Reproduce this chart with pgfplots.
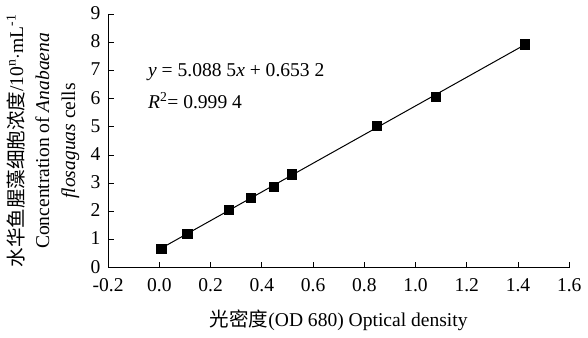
\documentclass[border=0pt]{standalone}
\usepackage{pgfplots}
\pgfplotsset{compat=1.18}
\usepackage{fontspec}
\setmainfont{Liberation Serif}
\newfontfamily\cjk{Noto Sans CJK SC}
\begin{document}
\fontsize{19.5}{24}\selectfont
\begin{tikzpicture}
\begin{axis}[
  scale only axis,
  width=460pt, height=253pt,
  xmin=-0.2, xmax=1.6, ymin=0, ymax=9,
  xtick={-0.2,0,0.2,0.4,0.6,0.8,1.0,1.2,1.4,1.6},
  ytick={0,1,...,9},
  axis lines*=left,
  axis line style={line width=0.9pt},
  tick align=inside,
  major tick length=5.5pt,
  tick style={line width=0.8pt, black},
  /pgf/number format/assume math mode=true,
  xticklabel style={/pgf/number format/fixed, /pgf/number format/fixed zerofill, /pgf/number format/precision=1, yshift=-4pt},
  yticklabel style={xshift=-1pt, yshift=1pt},
  every tick label/.append style={font=\fontsize{19.5}{22}\selectfont},
  xlabel={{\cjk 光密度}(OD 680) Optical density},
  ylabel={{\cjk 水华鱼腥藻细胞浓度}/10\textsuperscript{n}$\cdot$mL\textsuperscript{-1}\\Concentration of \textit{Anabaena}\\\textit{flosaguas} cells},
  ylabel style={align=center, font=\fontsize{19.5}{26}\selectfont, yshift=-2pt},
  xlabel style={font=\fontsize{19.5}{22}\selectfont, yshift=-5pt},
  clip=false,
]
\addplot[black, line width=1pt, no marks] coordinates {(0.01,0.704) (1.426,7.910)};
\addplot[only marks, mark=square*, mark size=4.7pt, black] coordinates {
(0.008,0.68) (0.109,1.20) (0.270,2.05) (0.356,2.48) (0.446,2.88) (0.516,3.32) (0.848,5.03) (1.079,6.06) (1.426,7.93)};
\node[anchor=west] at (axis cs:-0.07,6.95) {\textit{y} = 5.088 5\textit{x} + 0.653 2};
\node[anchor=west] at (axis cs:-0.07,5.93) {\textit{R}\textsuperscript{2}= 0.999 4};
\end{axis}
\end{tikzpicture}
\end{document}
